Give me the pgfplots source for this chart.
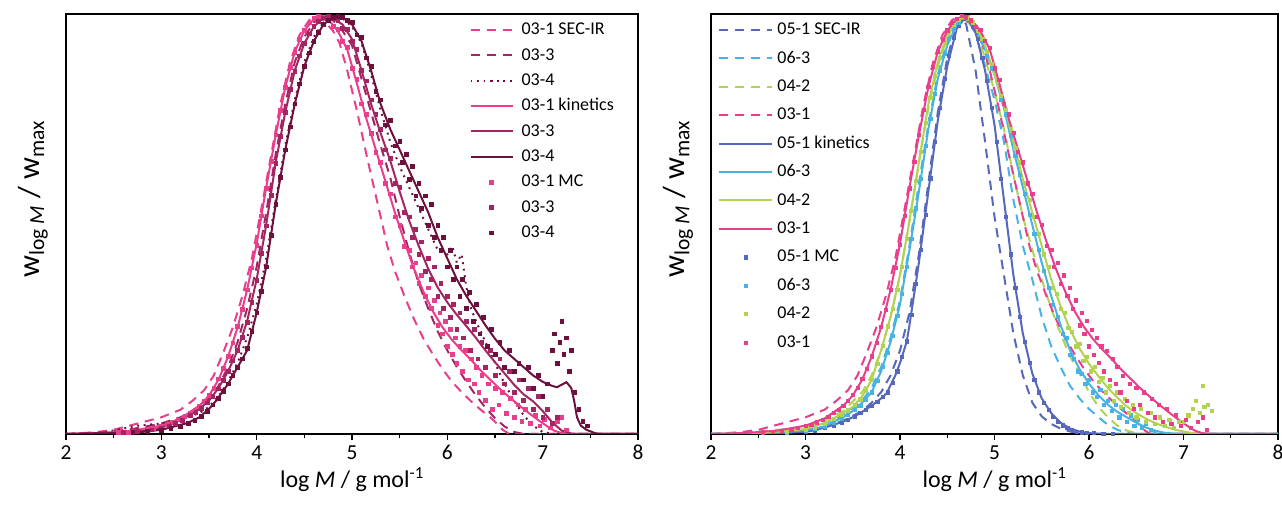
\documentclass[border=0pt]{standalone}
\usepackage{fontspec}
\setmainfont{Carlito}
\usepackage{pgfplots}
\usepackage{pgfplotstable}
\pgfplotsset{compat=1.18}

\definecolor{colpink}{RGB}{232,62,140}
\definecolor{colplum}{RGB}{163,38,98}
\definecolor{colwine}{RGB}{110,16,62}
\definecolor{colblue}{RGB}{86,104,188}
\definecolor{colsky}{RGB}{72,178,228}
\definecolor{collime}{RGB}{178,210,82}

% ---------- 03-1 ----------
\pgfplotstableread{
x y
2.0 0
2.3 0.004
2.5 0.01
2.75 0.025
3.0 0.04
3.2 0.058
3.33 0.08
3.45 0.105
3.55 0.14
3.65 0.195
3.75 0.255
3.85 0.33
3.95 0.42
4.05 0.54
4.15 0.665
4.25 0.79
4.35 0.89
4.45 0.955
4.55 0.99
4.62 1.0
4.7 0.99
4.8 0.965
4.87 0.935
4.95 0.87
5.05 0.775
5.15 0.67
5.22 0.6
5.3 0.52
5.37 0.45
5.45 0.39
5.55 0.33
5.65 0.275
5.75 0.228
5.85 0.19
5.95 0.155
6.05 0.125
6.15 0.1
6.25 0.078
6.35 0.058
6.45 0.04
6.52 0.025
6.58 0.01
6.65 0
8.0 0
}\irA
\pgfplotstableread{
x y
2.0 0
2.4 0.003
2.7 0.008
3.0 0.02
3.2 0.037
3.4 0.068
3.5 0.092
3.6 0.13
3.7 0.185
3.8 0.255
3.9 0.345
4.0 0.455
4.1 0.59
4.2 0.715
4.3 0.83
4.4 0.915
4.5 0.965
4.6 0.993
4.67 1.0
4.75 0.992
4.85 0.965
4.95 0.92
5.05 0.84
5.15 0.755
5.25 0.68
5.35 0.605
5.45 0.53
5.55 0.46
5.65 0.395
5.75 0.34
5.85 0.293
5.95 0.255
6.05 0.225
6.15 0.2
6.25 0.177
6.35 0.152
6.45 0.13
6.55 0.108
6.65 0.088
6.75 0.069
6.85 0.051
6.95 0.034
7.05 0.018
7.12 0.008
7.2 0.002
7.3 0
8.0 0
}\kinA
\pgfplotstableread{
x y
2.55 0.004
2.65 0.005
2.75 0.008
2.85 0.011
2.92 0.014
3.0 0.019
3.06 0.023
3.12 0.028
3.18 0.034
3.24 0.041
3.3 0.05
3.35 0.058
3.4 0.067
3.45 0.079
3.5 0.093
3.55 0.11
3.6 0.132
3.65 0.157
3.7 0.186
3.75 0.218
3.8 0.257
3.85 0.298
3.9 0.345
3.95 0.398
4.0 0.452
4.05 0.522
4.1 0.588
4.15 0.652
4.2 0.716
4.25 0.775
4.3 0.83
4.35 0.878
4.4 0.914
4.45 0.944
4.5 0.966
4.55 0.984
4.6 0.994
4.65 1.0
4.7 0.997
4.75 0.99
4.8 0.975
4.85 0.968
4.9 0.94
4.95 0.925
5.0 0.875
5.05 0.848
5.1 0.79
5.15 0.765
5.2 0.72
5.25 0.675
5.3 0.65
5.35 0.6
5.4 0.575
5.45 0.52
5.5 0.5
5.55 0.45
5.6 0.44
5.63 0.4
5.67 0.41
5.7 0.36
5.73 0.38
5.77 0.33
5.8 0.35
5.83 0.3
5.86 0.32
5.9 0.26
5.92 0.29
5.95 0.24
5.98 0.27
6.0 0.21
6.03 0.25
6.05 0.19
6.08 0.23
6.1 0.17
6.13 0.21
6.16 0.15
6.19 0.2
6.22 0.13
6.25 0.18
6.28 0.12
6.3 0.16
6.33 0.1
6.36 0.14
6.4 0.08
6.43 0.12
6.47 0.06
6.5 0.11
6.54 0.07
6.58 0.1
6.62 0.05
6.66 0.085
6.7 0.04
6.74 0.07
6.78 0.03
6.82 0.06
6.87 0.025
6.92 0.045
6.97 0.02
7.02 0.035
7.08 0.015
7.15 0.03
7.2 0.04
7.25 0.01
}\mcA

% ---------- 03-3 ----------
\pgfplotstableread{
x y
2.0 0
2.4 0.004
2.7 0.012
3.0 0.025
3.2 0.04
3.4 0.065
3.5 0.085
3.6 0.115
3.7 0.16
3.8 0.22
3.9 0.3
4.0 0.4
4.1 0.53
4.2 0.67
4.3 0.79
4.4 0.89
4.5 0.95
4.6 0.985
4.7 1.0
4.8 0.99
4.9 0.965
5.0 0.93
5.1 0.85
5.2 0.77
5.3 0.69
5.4 0.615
5.5 0.52
5.6 0.435
5.7 0.36
5.8 0.3
5.9 0.245
6.0 0.2
6.1 0.16
6.2 0.125
6.3 0.092
6.4 0.063
6.5 0.038
6.6 0.018
6.7 0.005
6.8 0
8.0 0
}\irB
\pgfplotstableread{
x y
2.0 0
2.5 0.003
2.8 0.007
3.0 0.015
3.12 0.026
3.3 0.045
3.4 0.06
3.5 0.08
3.6 0.11
3.7 0.15
3.8 0.2
3.9 0.27
4.0 0.37
4.1 0.5
4.2 0.65
4.3 0.77
4.4 0.87
4.5 0.935
4.6 0.975
4.7 0.995
4.75 1.0
4.8 0.995
4.9 0.98
5.0 0.945
5.1 0.87
5.2 0.79
5.3 0.72
5.4 0.655
5.5 0.58
5.6 0.51
5.7 0.45
5.8 0.395
5.9 0.35
6.0 0.315
6.1 0.285
6.2 0.258
6.3 0.23
6.4 0.2
6.5 0.172
6.6 0.145
6.7 0.118
6.8 0.095
6.9 0.078
7.0 0.055
7.1 0.028
7.2 0.008
7.3 0.001
7.4 0
8.0 0
}\kinB
\pgfplotstableread{
x y
2.6 0.004
2.75 0.006
2.9 0.01
3.0 0.014
3.08 0.02
3.15 0.026
3.22 0.033
3.3 0.044
3.36 0.052
3.42 0.062
3.48 0.075
3.54 0.09
3.6 0.108
3.65 0.128
3.7 0.15
3.75 0.175
3.8 0.2
3.85 0.232
3.9 0.268
3.95 0.315
4.0 0.368
4.05 0.432
4.1 0.498
4.15 0.572
4.2 0.648
4.25 0.712
4.3 0.77
4.35 0.825
4.4 0.868
4.45 0.905
4.5 0.935
4.55 0.958
4.6 0.975
4.65 0.988
4.7 0.996
4.75 1.0
4.8 0.995
4.85 0.99
4.9 0.97
4.95 0.968
5.0 0.94
5.05 0.92
5.1 0.87
5.15 0.845
5.2 0.8
5.25 0.765
5.3 0.73
5.35 0.68
5.4 0.66
5.45 0.6
5.5 0.59
5.55 0.53
5.6 0.52
5.63 0.47
5.66 0.49
5.7 0.43
5.73 0.46
5.77 0.39
5.8 0.42
5.83 0.37
5.86 0.4
5.9 0.33
5.93 0.36
5.96 0.3
6.0 0.33
6.03 0.28
6.06 0.31
6.1 0.25
6.13 0.29
6.17 0.23
6.2 0.27
6.24 0.2
6.28 0.25
6.32 0.18
6.36 0.22
6.4 0.16
6.45 0.2
6.5 0.14
6.55 0.18
6.6 0.12
6.65 0.15
6.7 0.1
6.75 0.13
6.8 0.08
6.85 0.11
6.9 0.06
6.95 0.09
7.0 0.04
7.05 0.06
7.1 0.025
7.15 0.04
}\mcB

% ---------- 03-4 ----------
\pgfplotstableread{
x y
2.0 0
2.4 0.004
2.75 0.02
3.0 0.025
3.2 0.035
3.4 0.05
3.5 0.065
3.6 0.09
3.7 0.125
3.8 0.17
3.9 0.23
4.0 0.31
4.1 0.42
4.2 0.56
4.3 0.69
4.4 0.8
4.5 0.89
4.6 0.95
4.7 0.985
4.8 1.0
4.9 0.995
5.0 0.975
5.1 0.935
5.2 0.86
5.3 0.775
5.4 0.7
5.5 0.64
5.6 0.59
5.7 0.54
5.8 0.49
5.9 0.44
6.0 0.43
6.05 0.45
6.1 0.41
6.15 0.43
6.2 0.35
6.25 0.3
6.3 0.27
6.4 0.22
6.5 0.17
6.6 0.12
6.7 0.08
6.8 0.045
6.9 0.02
7.0 0.005
7.1 0
8.0 0
}\irC
\pgfplotstableread{
x y
2.0 0
2.5 0.002
2.8 0.005
3.0 0.01
3.27 0.026
3.4 0.04
3.5 0.06
3.58 0.081
3.7 0.12
3.8 0.16
3.9 0.2
4.0 0.29
4.1 0.4
4.2 0.55
4.3 0.68
4.4 0.79
4.5 0.88
4.6 0.94
4.7 0.98
4.8 0.997
4.87 1.0
4.95 0.99
5.0 0.98
5.1 0.94
5.2 0.87
5.3 0.79
5.4 0.73
5.5 0.68
5.6 0.63
5.7 0.58
5.8 0.53
5.9 0.47
6.0 0.42
6.1 0.37
6.2 0.33
6.3 0.295
6.4 0.26
6.5 0.228
6.6 0.2
6.7 0.18
6.8 0.16
6.9 0.14
7.0 0.125
7.1 0.115
7.15 0.112
7.2 0.118
7.25 0.124
7.3 0.11
7.33 0.08
7.36 0.04
7.4 0.02
7.46 0.01
7.55 0.002
7.6 0
8.0 0
}\kinC
\pgfplotstableread{
x y
2.7 0.004
2.85 0.006
3.0 0.009
3.1 0.013
3.2 0.019
3.28 0.026
3.35 0.033
3.42 0.043
3.48 0.055
3.54 0.07
3.6 0.085
3.65 0.102
3.7 0.12
3.75 0.14
3.8 0.16
3.85 0.18
3.9 0.205
3.95 0.245
4.0 0.29
4.05 0.342
4.1 0.4
4.15 0.475
4.2 0.55
4.25 0.615
4.3 0.68
4.35 0.735
4.4 0.79
4.45 0.838
4.5 0.88
4.55 0.912
4.6 0.94
4.65 0.962
4.7 0.98
4.75 0.99
4.8 0.997
4.85 1.0
4.9 0.998
4.95 0.99
5.0 0.985
5.05 0.955
5.1 0.95
5.15 0.9
5.2 0.88
5.25 0.82
5.3 0.8
5.35 0.74
5.4 0.75
5.45 0.69
5.5 0.7
5.53 0.65
5.57 0.67
5.6 0.61
5.63 0.64
5.67 0.57
5.7 0.6
5.73 0.54
5.77 0.57
5.8 0.5
5.83 0.55
5.86 0.47
5.9 0.5
5.93 0.44
5.96 0.47
6.0 0.4
6.03 0.44
6.06 0.37
6.1 0.4
6.13 0.33
6.16 0.37
6.2 0.3
6.23 0.34
6.27 0.27
6.3 0.31
6.34 0.24
6.38 0.28
6.42 0.21
6.46 0.25
6.5 0.19
6.55 0.22
6.6 0.16
6.65 0.2
6.7 0.15
6.75 0.17
6.8 0.13
6.85 0.16
6.9 0.11
6.95 0.14
7.0 0.09
7.05 0.12
7.1 0.2
7.12 0.24
7.15 0.17
7.18 0.22
7.2 0.27
7.22 0.19
7.25 0.23
7.28 0.15
7.3 0.2
7.33 0.1
7.38 0.06
7.42 0.03
7.47 0.02
}\mcC

% ---------- 05-1 ----------
\pgfplotstableread{
x y
2.0 0
2.5 0.003
2.8 0.006
3.0 0.01
3.2 0.018
3.4 0.032
3.6 0.055
3.7 0.075
3.8 0.1
3.9 0.14
4.0 0.2
4.1 0.29
4.2 0.43
4.3 0.6
4.4 0.77
4.5 0.9
4.6 0.98
4.65 1.0
4.7 0.98
4.8 0.87
4.9 0.7
5.0 0.52
5.1 0.38
5.2 0.24
5.3 0.14
5.4 0.075
5.5 0.042
5.6 0.024
5.7 0.013
5.8 0.006
5.9 0.002
6.0 0
8.0 0
}\irD
\pgfplotstableread{
x y
2.0 0
2.5 0.001
2.8 0.003
3.0 0.005
3.12 0.01
3.3 0.022
3.4 0.03
3.5 0.04
3.58 0.05
3.7 0.068
3.8 0.085
3.86 0.098
3.95 0.14
4.0 0.17
4.07 0.22
4.1 0.26
4.2 0.41
4.3 0.58
4.4 0.75
4.5 0.88
4.6 0.97
4.7 1.0
4.8 0.96
4.9 0.87
5.0 0.74
5.1 0.56
5.2 0.38
5.3 0.24
5.4 0.145
5.5 0.085
5.6 0.05
5.7 0.027
5.8 0.013
5.9 0.006
6.0 0.002
6.2 0
8.0 0
}\kinD
\pgfplotstableread{
x y
2.8 0.003
3.0 0.005
3.1 0.008
3.2 0.014
3.3 0.021
3.38 0.028
3.45 0.034
3.52 0.042
3.58 0.05
3.64 0.058
3.7 0.067
3.76 0.077
3.82 0.089
3.87 0.1
3.92 0.122
3.97 0.15
4.02 0.185
4.07 0.222
4.12 0.285
4.17 0.36
4.22 0.44
4.27 0.525
4.32 0.612
4.37 0.7
4.42 0.78
4.47 0.85
4.52 0.905
4.57 0.948
4.62 0.978
4.67 0.995
4.72 0.998
4.77 0.975
4.82 0.945
4.87 0.9
4.92 0.845
4.97 0.78
5.02 0.7
5.07 0.61
5.12 0.52
5.17 0.43
5.22 0.35
5.27 0.28
5.32 0.22
5.37 0.17
5.42 0.13
5.47 0.1
5.52 0.075
5.57 0.058
5.62 0.042
5.67 0.03
5.72 0.021
5.77 0.015
5.82 0.01
5.87 0.006
5.92 0.004
5.98 0.003
6.05 0.002
6.15 0.001
6.25 0.001
}\mcD

% ---------- 06-3 ----------
\pgfplotstableread{
x y
2.0 0
2.5 0.004
2.8 0.008
3.0 0.014
3.2 0.025
3.4 0.045
3.6 0.08
3.7 0.11
3.8 0.16
3.9 0.23
4.0 0.32
4.1 0.45
4.2 0.6
4.3 0.74
4.4 0.86
4.5 0.94
4.6 0.985
4.68 1.0
4.8 0.96
4.9 0.88
5.0 0.8
5.1 0.7
5.2 0.56
5.3 0.45
5.4 0.37
5.5 0.28
5.6 0.21
5.7 0.16
5.8 0.115
5.9 0.085
6.0 0.06
6.1 0.04
6.2 0.022
6.3 0.01
6.4 0.003
6.5 0
8.0 0
}\irE
\pgfplotstableread{
x y
2.0 0
2.5 0.002
2.8 0.005
3.0 0.009
3.2 0.018
3.3 0.03
3.4 0.04
3.5 0.055
3.6 0.075
3.7 0.1
3.8 0.15
3.9 0.22
4.0 0.31
4.1 0.44
4.2 0.58
4.3 0.73
4.4 0.85
4.5 0.93
4.6 0.98
4.7 1.0
4.8 0.975
4.9 0.92
5.0 0.86
5.1 0.78
5.2 0.68
5.3 0.59
5.4 0.5
5.5 0.41
5.6 0.33
5.7 0.26
5.8 0.2
5.9 0.155
6.0 0.12
6.1 0.093
6.2 0.07
6.3 0.053
6.4 0.04
6.5 0.027
6.6 0.016
6.7 0.008
6.8 0.003
6.9 0.001
7.0 0
8.0 0
}\kinE
\pgfplotstableread{
x y
2.8 0.004
3.0 0.008
3.1 0.012
3.2 0.017
3.3 0.028
3.38 0.037
3.45 0.046
3.52 0.058
3.58 0.068
3.64 0.083
3.7 0.1
3.76 0.128
3.82 0.16
3.87 0.195
3.92 0.235
3.97 0.283
4.02 0.335
4.07 0.4
4.12 0.468
4.17 0.54
4.22 0.61
4.27 0.69
4.32 0.755
4.37 0.815
4.42 0.87
4.47 0.91
4.52 0.945
4.57 0.968
4.62 0.985
4.67 0.997
4.72 0.998
4.77 0.985
4.82 0.965
4.87 0.94
4.92 0.905
4.97 0.875
5.02 0.845
5.07 0.8
5.12 0.765
5.17 0.715
5.22 0.665
5.27 0.62
5.32 0.575
5.37 0.525
5.42 0.48
5.47 0.44
5.52 0.39
5.57 0.35
5.62 0.31
5.67 0.28
5.72 0.24
5.76 0.23
5.8 0.19
5.84 0.18
5.88 0.15
5.92 0.145
5.96 0.12
6.0 0.13
6.04 0.1
6.08 0.09
6.12 0.105
6.16 0.07
6.2 0.08
6.24 0.055
6.28 0.07
6.32 0.04
6.36 0.06
6.4 0.03
6.44 0.045
6.48 0.02
6.52 0.035
6.56 0.015
6.6 0.025
6.65 0.01
6.7 0.005
}\mcE

% ---------- 04-2 ----------
\pgfplotstableread{
x y
2.0 0
2.5 0.006
2.8 0.012
3.0 0.018
3.2 0.032
3.4 0.055
3.6 0.1
3.7 0.14
3.8 0.2
3.9 0.28
4.0 0.38
4.1 0.51
4.2 0.65
4.3 0.78
4.4 0.88
4.5 0.95
4.6 0.99
4.66 1.0
4.8 0.965
4.9 0.9
5.0 0.82
5.1 0.73
5.2 0.62
5.3 0.52
5.4 0.44
5.5 0.37
5.6 0.3
5.7 0.24
5.8 0.185
5.9 0.145
6.0 0.1
6.1 0.065
6.2 0.04
6.3 0.02
6.4 0.008
6.5 0.002
6.6 0
8.0 0
}\irF
\pgfplotstableread{
x y
2.0 0
2.5 0.003
2.8 0.007
3.0 0.012
3.2 0.026
3.4 0.05
3.5 0.065
3.6 0.09
3.7 0.13
3.8 0.2
3.9 0.28
4.0 0.38
4.1 0.51
4.2 0.65
4.3 0.79
4.4 0.89
4.5 0.955
4.6 0.99
4.68 1.0
4.8 0.98
4.9 0.93
5.0 0.86
5.1 0.79
5.2 0.7
5.3 0.61
5.4 0.53
5.5 0.45
5.6 0.37
5.7 0.305
5.8 0.25
5.9 0.205
6.0 0.168
6.1 0.138
6.2 0.11
6.3 0.087
6.4 0.066
6.5 0.05
6.6 0.037
6.7 0.026
6.8 0.018
6.9 0.011
7.0 0.006
7.1 0.002
7.2 0
8.0 0
}\kinF
\pgfplotstableread{
x y
2.8 0.006
3.0 0.011
3.1 0.015
3.2 0.024
3.3 0.036
3.38 0.047
3.45 0.057
3.52 0.07
3.58 0.083
3.64 0.103
3.7 0.13
3.76 0.168
3.82 0.212
3.87 0.258
3.92 0.3
3.97 0.345
4.02 0.4
4.07 0.468
4.12 0.535
4.17 0.605
4.22 0.675
4.27 0.745
4.32 0.805
4.37 0.858
4.42 0.9
4.47 0.935
4.52 0.962
4.57 0.98
4.62 0.992
4.67 0.999
4.72 0.995
4.77 0.985
4.82 0.965
4.87 0.945
4.92 0.915
4.97 0.885
5.02 0.845
5.07 0.81
5.12 0.775
5.17 0.73
5.22 0.685
5.27 0.65
5.32 0.6
5.37 0.56
5.42 0.52
5.47 0.48
5.52 0.43
5.57 0.4
5.62 0.35
5.66 0.335
5.7 0.3
5.74 0.29
5.78 0.255
5.82 0.245
5.86 0.21
5.9 0.215
5.94 0.175
5.98 0.185
6.02 0.15
6.06 0.16
6.1 0.125
6.14 0.135
6.18 0.1
6.22 0.115
6.26 0.08
6.3 0.1
6.34 0.065
6.38 0.085
6.42 0.05
6.46 0.07
6.5 0.04
6.55 0.06
6.6 0.03
6.65 0.05
6.7 0.025
6.75 0.04
6.8 0.02
6.85 0.035
6.9 0.015
6.95 0.03
7.0 0.03
7.05 0.045
7.1 0.06
7.13 0.08
7.17 0.05
7.2 0.115
7.22 0.065
7.26 0.07
7.3 0.055
}\mcF

\pgfplotsset{
  panel/.style={
    scale only axis, height=315pt,
    xmin=2, xmax=8, ymin=0, ymax=1.005,
    xtick={2,3,4,5,6,7,8}, minor x tick num=1, ytick=\empty,
    xtick pos=bottom, tick align=outside,
    major tick length=4.5pt, minor tick length=3pt,
    axis line style={line width=1.1pt},
    every tick/.style={black, line width=1pt},
    /pgf/number format/assume math mode=true,
    xticklabel style={font=\fontsize{16}{18}\selectfont, anchor=base, yshift=-15pt},
    xlabel={log \textit{M} / g mol\textsuperscript{-1}},
    every axis x label/.style={at={(axis description cs:0.5,0)}, anchor=base, yshift=-40pt, font=\fontsize{18}{21}\selectfont},
    ylabel={w\textsubscript{log \textit{M}} / w\textsubscript{max}},
    every axis y label/.style={at={(axis description cs:-0.058,0.56)}, rotate=90, anchor=center, font=\fontsize{23}{26}\selectfont},
    legend cell align=left,
  },
}

\begin{document}
\begin{tikzpicture}[x=1pt,y=1pt]
\useasboundingbox (-49.5,-54) rectangle (912,325.5);
\begin{axis}[panel, at={(0,0)}, anchor=south west, width=429pt,
  legend style={at={(axis description cs:0.705,0.983)}, anchor=north west, draw=none, fill=none,
    font=\fontsize{13.5}{16}\selectfont, inner sep=0pt, row sep=6pt,
    nodes={inner sep=0pt, text height=10pt, text depth=3pt},
    /tikz/every odd column/.append style={column sep=6pt}},
  legend image code/.code={\draw[mark repeat=2,mark phase=2,#1] plot coordinates {(0pt,0pt) (15.75pt,0pt) (31.5pt,0pt)};},
]
\addplot[draw=colpink, line width=1.5pt, dash pattern=on 7pt off 5pt] table[x=x,y=y] {\irA}; \addlegendentry{03-1 SEC-IR}
\addplot[draw=colplum, line width=1.5pt, dash pattern=on 7pt off 5pt] table[x=x,y=y] {\irB}; \addlegendentry{03-3}
\addplot[draw=colwine, line width=1.5pt, dash pattern=on 1.4pt off 3.5pt] table[x=x,y=y] {\irC}; \addlegendentry{03-4}
\addplot[draw=colpink, line width=1.5pt] table[x=x,y=y] {\kinA}; \addlegendentry{03-1 kinetics}
\addplot[draw=colplum, line width=1.5pt] table[x=x,y=y] {\kinB}; \addlegendentry{03-3}
\addplot[draw=colwine, line width=1.5pt] table[x=x,y=y] {\kinC}; \addlegendentry{03-4}
\addplot[only marks, mark=square*, mark size=1.4pt, color=colpink] table[x=x,y=y] {\mcA}; \addlegendentry{03-1 MC}
\addplot[only marks, mark=square*, mark size=1.4pt, color=colplum] table[x=x,y=y] {\mcB}; \addlegendentry{03-3}
\addplot[only marks, mark=square*, mark size=1.4pt, color=colwine] table[x=x,y=y] {\mcC}; \addlegendentry{03-4}
\end{axis}

\begin{axis}[panel, at={(483.75pt,0)}, anchor=south west, width=425.25pt,
  legend style={at={(axis description cs:0.012,0.983)}, anchor=north west, draw=none, fill=none,
    font=\fontsize{13.5}{16}\selectfont, inner sep=0pt, row sep=8.3pt,
    nodes={inner sep=0pt, text height=10pt, text depth=3pt},
    /tikz/every odd column/.append style={column sep=3pt}},
  legend image code/.code={\draw[mark repeat=2,mark phase=2,#1] plot coordinates {(0pt,0pt) (20pt,0pt) (40pt,0pt)};},
]
\addplot[draw=colblue, line width=1.5pt, dash pattern=on 7pt off 5pt] table[x=x,y=y] {\irD}; \addlegendentry{05-1 SEC-IR}
\addplot[draw=colsky, line width=1.5pt, dash pattern=on 7pt off 5pt] table[x=x,y=y] {\irE}; \addlegendentry{06-3}
\addplot[draw=collime, line width=1.5pt, dash pattern=on 7pt off 5pt] table[x=x,y=y] {\irF}; \addlegendentry{04-2}
\addplot[draw=colpink, line width=1.5pt, dash pattern=on 7pt off 5pt] table[x=x,y=y] {\irA}; \addlegendentry{03-1}
\addplot[draw=colblue, line width=1.5pt] table[x=x,y=y] {\kinD}; \addlegendentry{05-1 kinetics}
\addplot[draw=colsky, line width=1.5pt] table[x=x,y=y] {\kinE}; \addlegendentry{06-3}
\addplot[draw=collime, line width=1.5pt] table[x=x,y=y] {\kinF}; \addlegendentry{04-2}
\addplot[draw=colpink, line width=1.5pt] table[x=x,y=y] {\kinA}; \addlegendentry{03-1}
\addplot[only marks, mark=square*, mark size=1.2pt, color=colblue] table[x=x,y=y] {\mcD}; \addlegendentry{05-1 MC}
\addplot[only marks, mark=square*, mark size=1.2pt, color=colsky] table[x=x,y=y] {\mcE}; \addlegendentry{06-3}
\addplot[only marks, mark=square*, mark size=1.2pt, color=collime] table[x=x,y=y] {\mcF}; \addlegendentry{04-2}
\addplot[only marks, mark=square*, mark size=1.2pt, color=colpink] table[x=x,y=y] {\mcA}; \addlegendentry{03-1}
\end{axis}
\end{tikzpicture}
\end{document}
